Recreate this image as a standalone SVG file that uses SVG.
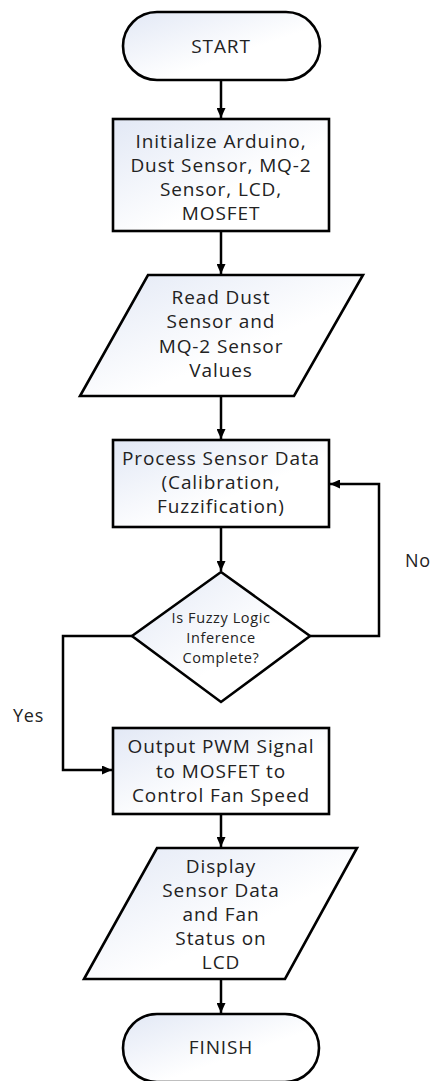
<svg xmlns="http://www.w3.org/2000/svg" width="432" height="1081" viewBox="0 0 432 1081">
<style>
.shape{fill:url(#g);stroke:#000;stroke-width:2.6}
.t{font-family:"Open Sans","Noto Sans",sans-serif;font-size:19px;letter-spacing:0.9px;fill:#222;text-anchor:middle}
.s{font-size:14.5px;letter-spacing:0.6px}
.lbl{font-family:"Open Sans","Noto Sans",sans-serif;font-size:18px;letter-spacing:0.8px;fill:#222}
.c{fill:none;stroke:#000;stroke-width:2.5}
</style>
<defs>
<linearGradient id="g" x1="0" y1="0" x2="1" y2="1">
<stop offset="0" stop-color="#e2e8f5"/>
<stop offset="0.6" stop-color="#ffffff"/>
<stop offset="1" stop-color="#ffffff"/>
</linearGradient>
<marker id="a" markerUnits="userSpaceOnUse" markerWidth="10" markerHeight="9" refX="10" refY="4.5" orient="auto">
<path d="M0,0 L10,4.5 L0,9 z" fill="#000"/>
</marker>
</defs>
<rect width="432" height="1081" fill="#fff"/>
<g id="connectors">
<path class="c" d="M221,80 V118" marker-end="url(#a)"/>
<path class="c" d="M221,231 V274" marker-end="url(#a)"/>
<path class="c" d="M221,396 V439" marker-end="url(#a)"/>
<path class="c" d="M221,527 V571" marker-end="url(#a)"/>
<path class="c" d="M310,636 H379 V484 H330" marker-end="url(#a)"/>
<path class="c" d="M132,636 H63 V770 H112" marker-end="url(#a)"/>
<path class="c" d="M221,814 V847" marker-end="url(#a)"/>
<path class="c" d="M221,979 V1013" marker-end="url(#a)"/>
<text class="lbl" x="405" y="567">No</text>
<text class="lbl" x="13" y="722">Yes</text>
</g>
<g id="start">
<rect class="shape" x="123" y="12" width="197" height="68" rx="34"/>
<text class="t" x="221" y="53">START</text>
</g>
<g id="init">
<rect class="shape" x="113" y="119" width="216" height="112"/>
<text class="t" x="221" y="148">Initialize Arduino,</text>
<text class="t" x="221" y="172">Dust Sensor, MQ-2</text>
<text class="t" x="221" y="196">Sensor, LCD,</text>
<text class="t" x="221" y="220">MOSFET</text>
</g>
<g id="read">
<path class="shape" d="M148,275 H363 L294,396 H80 Z"/>
<text class="t" x="221" y="304">Read Dust</text>
<text class="t" x="221" y="328">Sensor and</text>
<text class="t" x="221" y="353">MQ-2 Sensor</text>
<text class="t" x="221" y="377">Values</text>
</g>
<g id="process">
<rect class="shape" x="113" y="440" width="216" height="87"/>
<text class="t" x="221" y="465">Process Sensor Data</text>
<text class="t" x="221" y="489">(Calibration,</text>
<text class="t" x="221" y="513">Fuzzification)</text>
</g>
<g id="decision">
<path class="shape" d="M221,572 L310,636 L221,702 L132,636 Z"/>
<text class="t s" x="221" y="623">Is Fuzzy Logic</text>
<text class="t s" x="221" y="643">Inference</text>
<text class="t s" x="221" y="663">Complete?</text>
</g>
<g id="output">
<rect class="shape" x="113" y="728" width="216" height="86"/>
<text class="t" x="221" y="753">Output PWM Signal</text>
<text class="t" x="221" y="778">to MOSFET to</text>
<text class="t" x="221" y="802">Control Fan Speed</text>
</g>
<g id="display">
<path class="shape" d="M157,848 H357 L285,979 H84 Z"/>
<text class="t" x="221" y="873">Display</text>
<text class="t" x="221" y="897">Sensor Data</text>
<text class="t" x="221" y="921">and Fan</text>
<text class="t" x="221" y="945">Status on</text>
<text class="t" x="221" y="969">LCD</text>
</g>
<g id="finish">
<rect class="shape" x="123" y="1014" width="196" height="68" rx="34"/>
<text class="t" x="221" y="1054">FINISH</text>
</g>
</svg>
